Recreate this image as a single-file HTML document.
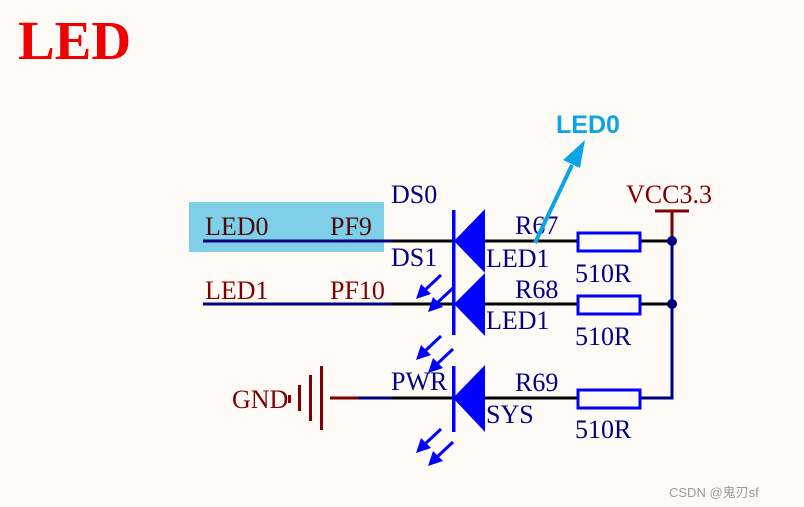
<!DOCTYPE html>
<html><head><meta charset="utf-8"><style>
html,body{margin:0;padding:0;background:#fefbf6;}
svg{display:block}
.t{font-family:"Liberation Serif",serif;font-size:26px;fill:#000080}
.m{fill:#800000}
</style></head><body>
<svg width="804" height="507" viewBox="0 0 804 507" xmlns="http://www.w3.org/2000/svg">
<rect width="804" height="507" fill="#fefbf6"/>
<text x="18" y="59" font-family="Liberation Serif,serif" font-weight="bold" font-size="55" fill="#f00000">LED</text>
<rect x="189" y="202" width="195" height="50" fill="#7fcfe9"/>
<g stroke-width="3" fill="none">
<line x1="203" y1="241" x2="392" y2="241" stroke="#000080"/>
<line x1="392" y1="241" x2="456" y2="241" stroke="#000"/>
<line x1="485" y1="241" x2="578" y2="241" stroke="#000"/>
<line x1="640" y1="241" x2="672" y2="241" stroke="#000"/>
<line x1="203" y1="304" x2="392" y2="304" stroke="#000080"/>
<line x1="392" y1="304" x2="456" y2="304" stroke="#000"/>
<line x1="485" y1="304" x2="578" y2="304" stroke="#000"/>
<line x1="640" y1="304" x2="672" y2="304" stroke="#000"/>
<line x1="330" y1="398" x2="358" y2="398" stroke="#800000"/>
<line x1="358" y1="398" x2="392" y2="398" stroke="#000080"/>
<line x1="392" y1="398" x2="454" y2="398" stroke="#000"/>
<line x1="485" y1="398" x2="578" y2="398" stroke="#000"/>
<line x1="640" y1="398" x2="672" y2="398" stroke="#000"/>
<polyline points="672,241 672,398 640,398" stroke="#000080"/>
<line x1="655" y1="211" x2="689" y2="211" stroke="#800000"/>
<line x1="672" y1="211" x2="672" y2="240" stroke="#800000"/>
</g>
<circle cx="672" cy="241" r="5" fill="#000080"/>
<circle cx="672" cy="304" r="5" fill="#000080"/>
<g fill="none" stroke="#0000ff" stroke-width="3">
<rect x="578" y="233" width="62" height="18"/>
<rect x="578" y="296" width="62" height="18"/>
<rect x="578" y="390" width="62" height="18"/>
</g>
<g fill="#0000ff">
<rect x="452" y="210" width="3.5" height="125"/>
<rect x="452" y="366" width="3.5" height="66"/>
<polygon points="454,241 485,209 485,273"/>
<polygon points="454,304 485,273 485,336"/>
<polygon points="453,398 485,365 485,432"/>
</g>
<g stroke="#0000ff" stroke-width="3" fill="#0000ff">
<line x1="441" y1="275" x2="425" y2="290"/><polygon points="416,299 421,284 431,294" stroke="none"/>
<line x1="453" y1="288" x2="437" y2="303"/><polygon points="428,312 433,297 443,307" stroke="none"/>
<line x1="441" y1="336" x2="425" y2="351"/><polygon points="416,360 421,345 431,355" stroke="none"/>
<line x1="453" y1="349" x2="437" y2="364"/><polygon points="428,373 433,358 443,368" stroke="none"/>
<line x1="441" y1="429" x2="425" y2="444"/><polygon points="416,453 421,438 431,448" stroke="none"/>
<line x1="453" y1="442" x2="437" y2="457"/><polygon points="428,466 433,451 443,461" stroke="none"/>
</g>
<g fill="#800000">
<rect x="320" y="366" width="3" height="64"/>
<rect x="309" y="375" width="3" height="46"/>
<rect x="298" y="385" width="3" height="26"/>
<rect x="288" y="395" width="3" height="8"/>
</g>
<text class="t" x="391" y="203">DS0</text>
<text class="t" x="391" y="266">DS1</text>
<text class="t" x="391" y="390">PWR</text>
<text class="t m" x="205" y="235" style="fill:#4a0a0a">LED0</text>
<text class="t m" x="330" y="235" style="fill:#4a0a0a">PF9</text>
<text class="t m" x="205" y="299">LED1</text>
<text class="t m" x="330" y="299">PF10</text>
<text class="t" x="515" y="234">R67</text>
<text class="t" x="486" y="267">LED1</text>
<text class="t" x="575" y="282">510R</text>
<text class="t" x="515" y="298">R68</text>
<text class="t" x="486" y="329">LED1</text>
<text class="t" x="575" y="345">510R</text>
<text class="t" x="515" y="391">R69</text>
<text class="t" x="486" y="423">SYS</text>
<text class="t" x="575" y="438">510R</text>
<text class="t m" x="232" y="408">GND</text>
<text class="t m" x="626" y="203">VCC3.3</text>
<line x1="535" y1="243" x2="572" y2="165" stroke="#0aa5e6" stroke-width="4"/>
<polygon points="585,140 563,160 580,168" fill="#0aa5e6"/>
<text x="556" y="133" font-family="Liberation Sans,sans-serif" font-weight="bold" font-size="25" fill="#0aa5e6">LED0</text>
<text x="669" y="497" font-family="Liberation Sans,'Noto Sans CJK SC',sans-serif" font-size="13" fill="#999">CSDN @鬼刃sf</text>
</svg>
</body></html>
